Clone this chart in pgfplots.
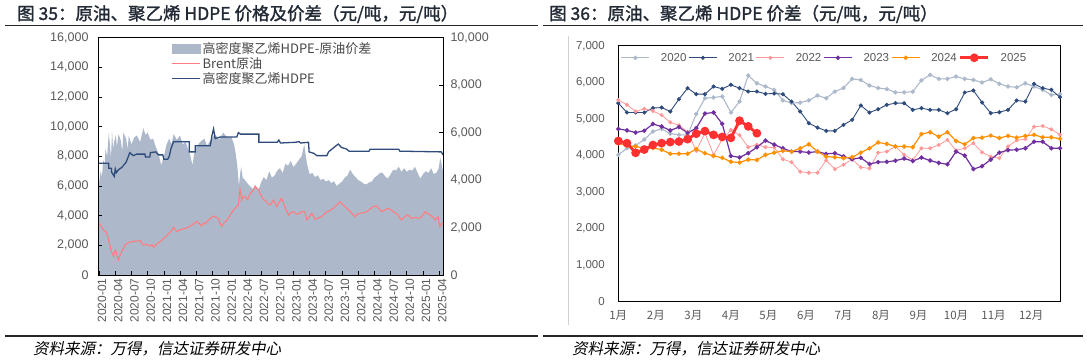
\documentclass[border=0pt]{standalone}
\usepackage{pgfplots}
\usepackage{pgfplotstable}
\pgfplotsset{compat=1.18}
\usepackage{fontspec}
\setmainfont{Liberation Sans}
\newfontfamily\cjk{Noto Sans CJK SC}
\newfontfamily\cjkb{Noto Sans CJK SC}[FakeBold=1.5]
\newfontfamily\cjks{Noto Sans CJK SC}[FakeSlant=0.2]
\definecolor{areac}{HTML}{ADB9CA}
\definecolor{brentc}{HTML}{FF7C80}
\definecolor{hdpec}{HTML}{2F4B7C}
\definecolor{ca}{HTML}{ADB9CA}
\definecolor{cb}{HTML}{2F4B7C}
\definecolor{cc}{HTML}{FF9999}
\definecolor{cd}{HTML}{7030A0}
\definecolor{ce}{HTML}{FF9000}
\definecolor{cf}{HTML}{FF3030}
\definecolor{tickc}{HTML}{595959}
\definecolor{titlec}{HTML}{222A35}

\pgfplotstableread{
i y2020 y2021 y2022 y2023 y2024 y2025
0 4020 5435 5520 4730 4340 4400
1 4200 5180 5390 4690 4270 4340
2 4280 5180 5210 4630 4250 4075
3 4440 5180 5280 4680 4200 4165
4 4660 5300 5220 4865 4210 4290
5 4730 5316 5110 4795 4160 4340
6 4600 5207 4910 4690 4050 4370
7 4570 5544 4830 4780 4050 4385
8 4560 5846 4650 4620 4050 4450
9 5140 5681 4130 4750 4175 4600
10 5570 5681 4620 5150 4065 4670
11 5590 5891 4020 5180 3990 4567
12 5620 5828 4450 4870 3940 4510
13 5180 5937 4700 3990 3830 4485
14 5480 5846 4560 3950 3810 4955
15 6190 5754 4230 4065 3890 4800
16 5980 5754 4300 4230 3880 4612
17 5890 5690 4230 4410 4020 nan
18 5800 5700 4220 4300 4080 nan
19 5510 5681 3900 4200 4130 nan
20 5440 5480 3820 4110 4110 nan
21 5450 5207 3560 4110 4200 nan
22 5510 4887 3530 4083 4310 nan
23 5645 4768 3530 4110 4110 nan
24 5570 4677 3870 4047 3975 nan
25 5750 4677 3630 4065 3955 nan
26 5850 4841 3750 3980 3930 nan
27 6100 4978 3900 3900 3955 nan
28 6070 5371 3680 3940 4080 nan
29 5920 5179 3650 3770 4200 nan
30 5850 5270 4080 3820 4360 nan
31 5820 5389 4110 3830 4320 nan
32 5730 5435 4250 3860 4250 nan
33 5730 5435 4020 3920 4250 nan
34 5750 5252 3880 3850 4230 nan
35 6060 5298 4200 3945 4590 nan
36 6210 5252 4200 3865 4640 nan
37 6100 5252 4290 3800 4520 nan
38 6100 5161 4430 3760 4640 nan
39 6165 5270 4140 4110 4400 nan
40 6100 5727 4200 4000 4310 nan
41 6070 5782 4340 3630 4480 nan
42 6000 5453 4090 3710 4490 nan
43 6090 5161 3970 3890 4550 nan
44 5965 5188 3930 4080 4480 nan
45 5890 5252 4250 4150 4540 nan
46 5870 5508 4420 4160 4490 nan
47 5980 5480 4450 4200 4540 nan
48 5890 5965 4790 4380 4570 nan
49 5800 5846 4810 4380 4500 nan
50 5660 5800 4720 4200 4500 nan
51 5680 5600 4570 4200 4460 nan
}\weekly

\begin{document}
\begin{tikzpicture}
\path[use as bounding box] (0bp,0bp) rectangle (1087bp,360bp);

% titles and rules
\node[anchor=west, inner sep=0, text=titlec] at (17bp,346bp) {\cjkb\fontsize{17.5bp}{19bp}\selectfont 图 35：原油、聚乙烯 HDPE 价格及价差（元/吨，元/吨）};
\node[anchor=west, inner sep=0, text=titlec] at (549bp,346bp) {\cjkb\fontsize{17.5bp}{19bp}\selectfont 图 36：原油、聚乙烯 HDPE 价差（元/吨，元/吨）};
\draw[line width=1.2bp, black!85] (5bp,334.5bp) -- (538bp,334.5bp);
\draw[line width=1.2bp, black!85] (543bp,334.5bp) -- (1083bp,334.5bp);
\draw[line width=1.2bp, black!85] (5bp,24bp) -- (538bp,24bp);
\draw[line width=1.2bp, black!85] (543bp,24bp) -- (1083bp,24bp);
\node[anchor=west, inner sep=0] at (33bp,11bp) {\cjks\fontsize{15.5bp}{17bp}\selectfont 资料来源：万得，信达证券研发中心};
\node[anchor=west, inner sep=0] at (572bp,11bp) {\cjks\fontsize{15.5bp}{17bp}\selectfont 资料来源：万得，信达证券研发中心};
\draw[line width=0.8bp, black!18] (568.3bp,324bp) -- (568.3bp,35bp);

% ---------- left chart: spread area on right axis ----------
\begin{axis}[
  at={(98bp,85bp)}, anchor=south west, scale only axis,
  width=345bp, height=237.3bp,
  xmin=-0.2, xmax=63.7, ymin=0, ymax=10000,
  axis x line=none, axis y line*=right,
  axis line style={black, line width=0.9bp},
  ytick={0,2000,...,10000},
  tick align=inside, major tick length=4bp,
  tick style={black, line width=0.7bp},
  /pgf/number format/1000 sep={,},
  /pgf/number format/assume math mode=true,
  scaled y ticks=false,
  yticklabel style={font=\fontsize{12.5bp}{14bp}\selectfont, text=tickc, xshift=4bp},
]
\addplot[fill=areac, draw=none] coordinates {
(0,3875) (0.3,4400) (0.5,4100) (0.8,4875) (1.0,4600) (1.2,5313) (1.5,5000) (1.8,6000) (2.0,5500) (2.2,4900) (2.4,6063) (2.6,5300) (2.8,5625) (3.1,5900) (3.3,5400) (3.6,5938) (4.0,5688) (4.3,5200) (4.5,6000) (5.0,5750) (5.3,5300) (5.5,5875) (6.0,5500) (6.5,5800) (7.0,5875) (7.6,5600) (8.2,6188) (8.6,5900) (9.0,6000) (9.5,5700) (10.0,5750) (10.5,5400) (11.0,5125) (11.5,4625) (12.0,5000) (12.5,5500) (13.0,5750) (13.4,5500) (13.8,5938) (14.4,5700) (15.0,5875) (15.5,5500) (16.0,5625) (16.5,5300) (16.8,5125) (17.3,4625) (17.6,5100) (18.0,5375) (18.7,5600) (19.5,5750) (20.0,5450) (20.5,5625) (21.0,5800) (21.5,5938) (22.2,5700) (23.0,6000) (23.7,5800) (24.5,5813) (25.0,5500) (25.3,5125) (25.6,4600) (25.9,3750) (26.1,4200) (26.3,4563) (26.6,4100) (27.0,4000) (27.7,3800) (28.5,3625) (29.0,3750) (29.5,3563) (30.0,3900) (30.5,4125) (31.0,4000) (31.5,4375) (32.0,4100) (32.5,4188) (33.0,4400) (33.5,4500) (34.0,4300) (34.5,4688) (35.0,4600) (35.5,4813) (36.0,4550) (36.5,4688) (37.0,4850) (37.5,5000) (38.0,5500) (38.3,5000) (38.5,4688) (39.0,4250) (39.5,4300) (40.0,4125) (40.5,4200) (41.0,4000) (41.5,4050) (42.0,3938) (42.5,4000) (43.0,3875) (43.5,3950) (44.0,3750) (44.5,3850) (45.0,3938) (45.5,4100) (46.0,4188) (46.5,4438) (47.0,4250) (47.5,4125) (48.0,4000) (48.5,3938) (49.0,3850) (49.5,3813) (50.0,3900) (50.5,3938) (51.0,4100) (51.5,4188) (52.0,4300) (52.5,4313) (53.0,4150) (53.5,4063) (54.0,4250) (54.5,4438) (55.0,4400) (55.5,4563) (56.0,4350) (56.5,4500) (57.0,4350) (57.5,4438) (58.0,4400) (58.5,4563) (59.0,4300) (59.5,4063) (60.0,4250) (60.5,4375) (61.0,4300) (61.5,4500) (62.0,4250) (62.5,4313) (62.9,4500) (63.2,4938) (63.5,4600) (63.7,4375)
} \closedcycle;
\end{axis}

% ---------- left chart: price lines on left axis ----------
\begin{axis}[
  at={(98bp,85bp)}, anchor=south west, scale only axis,
  width=345bp, height=237.3bp,
  xmin=-0.2, xmax=63.7, ymin=0, ymax=16000,
  axis line style={black, line width=0.9bp},
  tick align=inside, major tick length=4bp,
  tick style={black, line width=0.7bp},
  xtick pos=bottom, ytick pos=left,
  xtick={0,3,...,63},
  xticklabels={2020-01,2020-04,2020-07,2020-10,2021-01,2021-04,2021-07,2021-10,2022-01,2022-04,2022-07,2022-10,2023-01,2023-04,2023-07,2023-10,2024-01,2024-04,2024-07,2024-10,2025-01,2025-04},
  xticklabel style={rotate=90, anchor=east, font=\fontsize{12bp}{13bp}\selectfont, text=tickc, yshift=-3bp},
  ytick={0,2000,...,16000},
  /pgf/number format/1000 sep={,},
  /pgf/number format/assume math mode=true,
  scaled y ticks=false,
  yticklabel style={font=\fontsize{12.5bp}{14bp}\selectfont, text=tickc, xshift=-6bp},
  legend cell align=left,
  legend style={at={(0.209,0.995)}, anchor=north west, draw=none, fill=none,
    font=\cjk\fontsize{13bp}{14bp}\selectfont, text=black!72, row sep=-1.5bp, inner sep=1bp},
]
\addlegendimage{legend image code/.code={\fill[areac] (0bp,-4.5bp) rectangle (28bp,4.5bp);}}
\addlegendentry{高密度聚乙烯HDPE-原油价差}
\addplot[brentc, line width=1.1bp, legend image code/.code={\draw[brentc, line width=1bp] (0bp,0bp) -- (28bp,0bp);}] coordinates {
(0,3480) (0.4,3300) (0.8,3030) (1.1,2950) (1.4,2860) (1.7,2470) (2.0,2000) (2.2,1690) (2.4,1500) (2.7,1240) (2.9,1600) (3.1,1690) (3.3,1300) (3.6,1010) (3.9,1350) (4.2,1570) (4.5,1800) (4.8,2020) (5.1,2100) (5.4,2180) (6.0,2250) (6.8,2280) (7.6,2310) (7.9,2150) (8.2,2020) (8.8,2080) (9.4,1950) (9.8,2050) (10.1,1870) (10.7,2100) (11.3,2250) (11.9,2450) (12.5,2630) (13.2,2900) (13.8,3210) (14.1,3050) (14.4,2920) (15.0,3050) (15.6,3100) (16.0,3150) (16.5,3210) (17.3,3400) (18.1,3600) (18.6,3450) (19.0,3310) (19.3,3500) (19.6,3440) (20.4,3750) (21.2,3980) (21.6,3900) (22.1,3820) (22.4,3500) (22.7,3260) (23.1,3500) (23.6,3660) (24.2,4000) (24.9,4380) (25.4,4600) (25.8,4720) (26.1,5780) (26.3,5400) (26.4,5050) (26.7,5300) (27.0,5280) (27.5,5100) (28.0,5500) (28.5,5700) (28.9,6000) (29.2,5850) (29.5,5780) (29.8,5500) (30.1,5280) (30.5,5100) (31.0,4940) (31.3,4800) (31.7,4720) (32.0,4900) (32.3,5050) (32.6,4800) (32.9,4610) (33.3,4900) (33.8,5170) (34.2,4800) (34.6,4400) (35.1,4050) (35.5,4200) (36.0,4270) (36.6,4100) (37.2,4160) (37.6,4300) (38.1,4270) (38.5,3710) (38.9,3900) (39.4,4160) (39.7,3950) (40.0,3750) (40.6,3850) (41.2,3930) (41.7,4100) (42.2,4270) (42.8,4350) (43.4,4500) (44.0,4700) (44.6,4940) (45.0,4800) (45.6,4610) (46.2,4400) (46.8,4160) (47.1,4050) (47.4,3930) (47.8,4100) (48.3,4160) (49.0,4200) (49.6,4270) (50.2,4450) (50.8,4610) (51.4,4660) (51.9,4450) (52.3,4270) (53.0,4400) (53.6,4500) (54.0,4400) (54.5,4270) (55.0,4150) (55.4,4050) (55.7,3850) (56.0,3710) (56.5,3900) (57.0,4050) (57.5,3950) (57.9,3820) (58.6,3880) (59.4,3820) (59.9,4000) (60.4,4270) (60.8,4150) (61.3,4050) (61.8,3900) (62.2,3710) (62.5,3850) (62.8,3930) (63.1,3260) (63.4,3450) (63.7,3530)
};
\addlegendentry{Brent原油}
\addplot[hdpec, line width=1.3bp, legend image code/.code={\draw[hdpec, line width=1.3bp] (0bp,0bp) -- (28bp,0bp);}] coordinates {
(0,7530) (1.8,7530) (1.8,7200) (2.3,7200) (2.3,6950) (2.8,6650) (3.0,7150) (3.2,6900) (3.6,7100) (4.2,7250) (5.0,7600) (5.7,8250) (6.3,8050) (7.0,8150) (8.5,8150) (8.6,7950) (9.4,7950) (9.5,8250) (10.5,8300) (11.0,8100) (11.8,8100) (12.0,7800) (12.7,7800) (13.0,8000) (13.3,8500) (13.8,8990) (16.7,8990) (16.7,8300) (17.8,8300) (17.8,8720) (20.6,8720) (20.9,9400) (21.2,9850) (21.5,9200) (22.4,9300) (25.5,9300) (25.8,9600) (26.2,9500) (29.6,9500) (29.6,8950) (33.0,8950) (33.3,9100) (33.6,8900) (36.5,8950) (37.0,9000) (37.3,8900) (38.8,8950) (38.9,8300) (39.8,8200) (40.3,8050) (42.2,8050) (42.5,8300) (43.5,8600) (44.3,8830) (44.9,8600) (45.8,8500) (46.3,8350) (50.0,8350) (50.2,8480) (55.5,8480) (55.7,8350) (63.4,8300) (63.7,8100)
};
\addlegendentry{高密度聚乙烯HDPE}
\end{axis}

% ---------- right chart ----------
\begin{axis}[
  at={(618.3bp,58.3bp)}, anchor=south west, scale only axis,
  width=441.7bp, height=255.7bp,
  xmin=0, xmax=51, ymin=0, ymax=7000,
  axis line style={black, line width=1bp},
  major tick length=0pt,
  xtick={0,4.333,8.667,13,17.333,21.667,26,30.333,34.667,39,43.333,47.667},
  xticklabels={1月,2月,3月,4月,5月,6月,7月,8月,9月,10月,11月,12月},
  xticklabel style={font=\cjk\fontsize{11.5bp}{13bp}\selectfont, text=tickc, yshift=-5bp},
  ytick={0,1000,...,7000},
  /pgf/number format/1000 sep={,},
  /pgf/number format/assume math mode=true,
  scaled y ticks=false,
  yticklabel style={font=\fontsize{11.5bp}{13bp}\selectfont, text=tickc, xshift=-10bp},
  legend columns=6,
  legend style={at={(0.003,0.985)}, anchor=north west, draw=none, fill=none,
    font=\fontsize{11.5bp}{13bp}\selectfont, text=tickc, inner sep=1bp,
    /tikz/every odd column/.append style={column sep=9bp}},
  legend image code/.code={\draw[#1, mark repeat=2, mark phase=2] plot coordinates {(0bp,0bp) (14bp,0bp) (28bp,0bp)};},
]
\addplot[ca, line width=1.1bp, mark=*, mark size=1.6bp] table[x=i, y=y2020] {\weekly};
\addlegendentry{2020}
\addplot[cb, line width=0.9bp, mark=*, mark size=1.6bp] table[x=i, y=y2021] {\weekly};
\addlegendentry{2021}
\addplot[cc, line width=0.8bp, mark=*, mark size=1.6bp] table[x=i, y=y2022] {\weekly};
\addlegendentry{2022}
\addplot[cd, line width=1.2bp, mark=*, mark size=1.6bp] table[x=i, y=y2023] {\weekly};
\addlegendentry{2023}
\addplot[ce, line width=1.2bp, mark=*, mark size=1.6bp] table[x=i, y=y2024] {\weekly};
\addlegendentry{2024}
\addplot[cf, line width=2.8bp, mark=*, mark size=2.9bp] table[x=i, y=y2025] {\weekly};
\addlegendentry{2025}
\end{axis}
\end{tikzpicture}
\end{document}
